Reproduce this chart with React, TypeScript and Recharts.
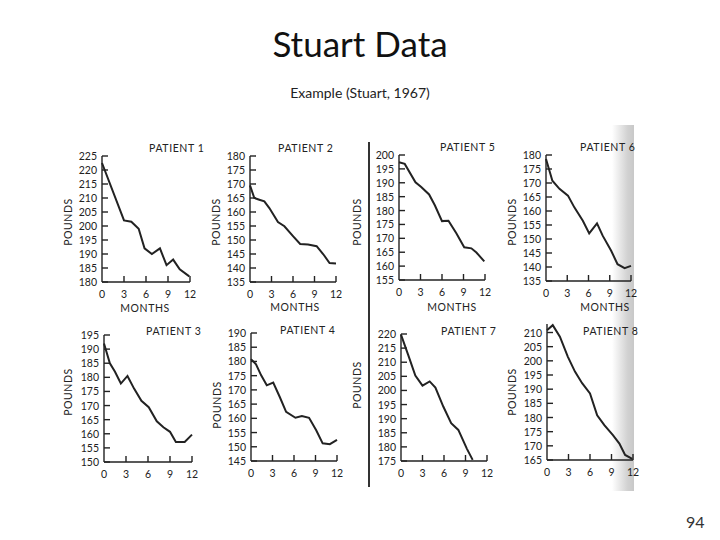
import { Line, LineChart, XAxis, YAxis } from 'recharts'

// [month, pounds]
const patient1 = [[0, 222.5], [3, 202], [4, 201.5], [5, 199], [5.8, 192], [6.8, 190], [7.9, 192], [8.8, 186], [9.7, 188], [10.6, 184.5], [11.9, 182]]
const patient2 = [[0, 169.5], [0.6, 165], [1.3, 164.4], [2, 163.8], [2.7, 161.4], [3.9, 156.4], [4.8, 154.9], [6, 151.4], [7, 148.6], [8.1, 148.4], [9.3, 147.8], [10.2, 145], [11.1, 141.8], [12, 141.6]]
const patient3 = [[0, 192], [0.8, 185], [1.5, 182], [2.3, 177.8], [3.2, 180.5], [4.1, 176], [5.1, 171.7], [6.1, 169.4], [7.2, 164.4], [8.1, 162.3], [9, 160.7], [9.8, 157.1], [11, 157.1], [12, 159.7]]
const patient4 = [[0, 180.8], [0.7, 179], [1.4, 175.2], [2.2, 171.6], [3.1, 172.6], [4, 167.6], [4.9, 162.3], [6.2, 160.2], [7.1, 160.8], [8.1, 160.2], [9.1, 155.8], [10, 151.2], [11, 150.9], [12, 152.4]]
const patient5 = [[0, 197.4], [0.8, 196.8], [2.3, 190.2], [3.1, 188.5], [4.2, 185.8], [5, 181.9], [6, 176.2], [6.9, 176.3], [8, 171.8], [9.1, 166.8], [10.1, 166.4], [10.8, 164.9], [11.9, 161.7]]
const patient6 = [[0, 178.6], [0.9, 170.8], [1.9, 167.9], [3.1, 165.5], [4, 161.3], [5.2, 156.5], [6.1, 152], [7.2, 155.6], [8, 151.2], [9.2, 145.8], [10.1, 141], [11.1, 139.6], [12, 140.4]]
const patient7 = [[0, 219.8], [1, 212.6], [2, 205.3], [3, 201.7], [4, 203.2], [4.8, 201], [5.9, 194.3], [7, 188.4], [8, 186], [9.2, 179.3], [10, 175.4]]
const patient8 = [[0, 210.8], [0.8, 212.6], [1.8, 208.5], [2.9, 201.5], [3.9, 196.2], [4.9, 192.1], [6, 188.5], [7, 180.8], [8, 177.3], [9.2, 173.8], [10.1, 170.8], [10.9, 166.8], [11.9, 165.4]]

const monthTicks = [0, 3, 6, 9, 12]
const ticks1 = [180, 185, 190, 195, 200, 205, 210, 215, 220, 225]
const ticks2 = [135, 140, 145, 150, 155, 160, 165, 170, 175, 180]
const ticks3 = [150, 155, 160, 165, 170, 175, 180, 185, 190, 195]
const ticks4 = [145, 150, 155, 160, 165, 170, 175, 180, 185, 190]
const ticks5 = [155, 160, 165, 170, 175, 180, 185, 190, 195, 200]
const ticks6 = [135, 140, 145, 150, 155, 160, 165, 170, 175, 180]
const ticks7 = [175, 180, 185, 190, 195, 200, 205, 210, 215, 220]
const ticks8 = [165, 170, 175, 180, 185, 190, 195, 200, 205, 210]

const INK = '#222'
const FONT = 'Lato, "Noto Sans", sans-serif'
const YW = 36
const MT = 6
const MR = 12
const XH = 22

const toRows = (pts: number[][]) => pts.map(([m, lb]) => ({ m, lb }))

// plot box = where the axes sit on the slide; pounds/months/title = label spots
const panels = [
  { title: 'PATIENT 1', pts: patient1, ticks: ticks1, top: 225, box: { x: 102, y: 156, w: 88, h: 126 }, pounds: [68, 222], months: [145, 308], label: [149, 148] },
  { title: 'PATIENT 2', pts: patient2, ticks: ticks2, top: 180, box: { x: 250, y: 156, w: 86, h: 126 }, pounds: [216, 222], months: [295, 307], label: [278, 148] },
  { title: 'PATIENT 5', pts: patient5, ticks: ticks5, top: 200, box: { x: 399, y: 155, w: 86, h: 125 }, pounds: [357, 222], months: [452, 307], label: [440, 147] },
  { title: 'PATIENT 6', pts: patient6, ticks: ticks6, top: 180, box: { x: 546, y: 155, w: 85, h: 126 }, pounds: [512, 222], months: [605, 307], label: [580, 147] },
  { title: 'PATIENT 3', pts: patient3, ticks: ticks3, top: 195, box: { x: 104, y: 335, w: 88, h: 127 }, pounds: [68, 392], months: null, label: [146, 331] },
  { title: 'PATIENT 4', pts: patient4, ticks: ticks4, top: 190, box: { x: 251, y: 333, w: 86, h: 128 }, pounds: [217, 405], months: null, label: [280, 330] },
  { title: 'PATIENT 7', pts: patient7, ticks: ticks7, top: 220, box: { x: 401, y: 334, w: 86, h: 127 }, pounds: [357, 385], months: null, label: [441, 331] },
  { title: 'PATIENT 8', pts: patient8, ticks: ticks8, top: 213, box: { x: 547, y: 324, w: 86, h: 136 }, pounds: [512, 392], months: null, label: [583, 331] },
]

function YTick(props: any) {
  const { x, y, payload } = props
  return (
    <g>
      <line x1={x} x2={x + 6} y1={y} y2={y} stroke={INK} strokeWidth={1.4} />
      <text x={x - 5} y={y} dy={4} textAnchor="end" fontSize={10.5} fontFamily={FONT} fill={INK}>
        {payload.value}
      </text>
    </g>
  )
}

function XTick(props: any) {
  const { x, y, payload } = props
  return (
    <g>
      {payload.value > 0 && <line x1={x} x2={x} y1={y} y2={y - 6} stroke={INK} strokeWidth={1.4} />}
      <text x={x} y={y} dy={16} textAnchor="middle" fontSize={10.5} fontFamily={FONT} fill={INK}>
        {payload.value}
      </text>
    </g>
  )
}

const labelStyle = {
  position: 'absolute' as const,
  fontFamily: FONT,
  fontSize: 10.5,
  letterSpacing: 0.6,
  color: INK,
  whiteSpace: 'nowrap' as const,
  lineHeight: '12px',
}

function Panel({ p }: { p: (typeof panels)[number] }) {
  const { box } = p
  return (
    <>
      <div style={{ position: 'absolute', left: box.x - YW, top: box.y - MT }}>
        <LineChart
          width={YW + box.w + MR}
          height={MT + box.h + XH}
          data={toRows(p.pts)}
          margin={{ top: MT, right: MR, left: 0, bottom: 0 }}
        >
          <XAxis
            type="number"
            dataKey="m"
            domain={[0, 12]}
            ticks={monthTicks}
            interval={0}
            height={XH}
            tickSize={0}
            tickMargin={0}
            tickLine={false}
            axisLine={{ stroke: INK, strokeWidth: 1.4 }}
            tick={(t: any) => <XTick {...t} />}
          />
          <YAxis
            type="number"
            domain={[p.ticks[0], p.top]}
            ticks={p.ticks}
            interval={0}
            width={YW}
            tickSize={0}
            tickMargin={0}
            tickLine={false}
            axisLine={{ stroke: INK, strokeWidth: 1.4 }}
            tick={(t: any) => <YTick {...t} />}
          />
          <Line type="linear" dataKey="lb" stroke={INK} strokeWidth={2} dot={false} isAnimationActive={false} />
        </LineChart>
      </div>
      <div style={{ ...labelStyle, left: p.label[0], top: p.label[1] - 6 }}>{p.title}</div>
      <div
        style={{
          ...labelStyle,
          left: p.pounds[0],
          top: p.pounds[1],
          fontSize: 10.5,
          transform: 'translate(-50%, -50%) rotate(-90deg)',
        }}
      >
        POUNDS
      </div>
      {p.months && (
        <div style={{ ...labelStyle, left: p.months[0], top: p.months[1], fontSize: 10.5, transform: 'translate(-50%, -50%)' }}>
          MONTHS
        </div>
      )}
    </>
  )
}

export default function App() {
  return (
    <div style={{ position: 'absolute', left: 0, top: 0, width: 720, height: 540, background: '#fff', overflow: 'hidden' }}>
      <div style={{ position: 'absolute', top: 22, width: 720, textAlign: 'center', fontFamily: FONT, fontSize: 35, color: '#111' }}>
        Stuart Data
      </div>
      <div style={{ position: 'absolute', top: 84, width: 720, textAlign: 'center', fontFamily: FONT, fontSize: 14, color: '#222' }}>
        Example (Stuart, 1967)
      </div>

      {/* scanned page edge */}
      <div
        style={{
          position: 'absolute',
          left: 612,
          top: 125,
          width: 22,
          height: 366,
          background: 'linear-gradient(to right, rgba(200,200,200,0), #d2d2d2 70%, #c8c8c8)',
        }}
      />
      {/* divider between panel columns */}
      <div style={{ position: 'absolute', left: 368, top: 142, width: 1.5, height: 345, background: '#333' }} />

      {panels.map((p) => (
        <Panel key={p.title} p={p} />
      ))}

      <div style={{ position: 'absolute', left: 686, top: 512, fontFamily: FONT, fontSize: 16, color: '#333' }}>94</div>
    </div>
  )
}
